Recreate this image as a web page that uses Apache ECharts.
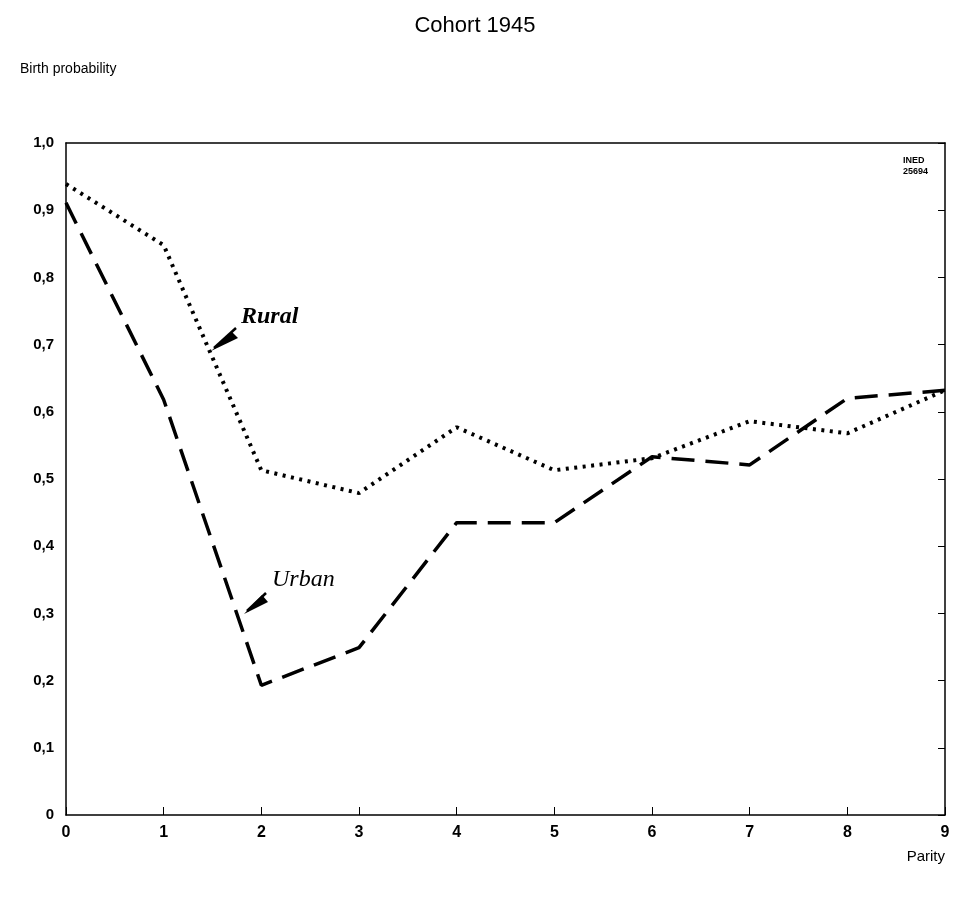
<!DOCTYPE html>
<html><head><meta charset="utf-8">
<script src="https://cdn.jsdelivr.net/npm/echarts@6/dist/echarts.min.js"></script>
<style>html,body{margin:0;padding:0;background:#fff}#c{width:971px;height:897px}</style>
</head><body><div id="c"></div>
<script>
const parity = [0,1,2,3,4,5,6,7,8,9];
const rural = [0.939,0.848,0.513,0.479,0.577,0.513,0.531,0.586,0.568,0.632];
const urban = [0.911,0.618,0.193,0.249,0.435,0.435,0.533,0.521,0.620,0.632];
const yTicks = ['0','0,1','0,2','0,3','0,4','0,5','0,6','0,7','0,8','0,9','1,0'];

const chart = echarts.init(document.getElementById('c'));
const font = 'Liberation Sans, Arial, sans-serif';
const axLine = {show:true,onZero:false,lineStyle:{color:'#000',width:1.5}};
chart.setOption({
  animation:false,
  backgroundColor:'#fff',
  title:{text:'Cohort 1945',left:470,top:10,textAlign:'center',
    textStyle:{fontFamily:font,fontSize:22,fontWeight:'normal',color:'#000'}},
  grid:{left:66,right:26,top:143,bottom:82},
  xAxis:[
    {type:'value',min:0,max:9,interval:1,position:'bottom',
      name:'Parity',nameLocation:'end',nameGap:0,
      nameTextStyle:{fontFamily:font,fontSize:15,color:'#000',align:'right',verticalAlign:'top',padding:[34,0,0,0]},
      axisLine:axLine,splitLine:{show:false},
      axisTick:{show:true,inside:true,length:8,lineStyle:{color:'#000'}},
      axisLabel:{fontFamily:font,fontSize:16,color:'#000',margin:10,fontWeight:'bold'}},
    {type:'value',min:0,max:9,interval:1,position:'top',
      axisLine:axLine,splitLine:{show:false},
      axisTick:{show:false},axisLabel:{show:false}}
  ],
  yAxis:[
    {type:'value',min:0,max:1,interval:0.1,position:'left',
      axisLine:axLine,splitLine:{show:false},
      axisTick:{show:false},
      axisLabel:{fontFamily:font,fontSize:15,color:'#000',margin:12,fontWeight:'bold',
        formatter:(v)=>yTicks[Math.round(v*10)]}},
    {type:'value',min:0,max:1,interval:0.1,position:'right',
      axisLine:axLine,splitLine:{show:false},
      axisTick:{show:true,inside:true,length:7,lineStyle:{color:'#000'}},
      axisLabel:{show:false}}
  ],
  graphic:[
    {type:'text',left:20,top:62,style:{text:'Birth probability',font:'14px '+font,fill:'#000'}},
    {type:'text',left:903,top:155,style:{text:'INED\n25694',font:'bold 9px '+font,fill:'#000',align:'center',lineHeight:11}},
    {type:'text',left:241,top:305,style:{text:'Rural',font:'bold italic 24px "Liberation Serif", "DejaVu Serif", serif',fill:'#000'}},
    {type:'text',left:272,top:568,style:{text:'Urban',font:'italic 24px "Liberation Serif", "DejaVu Serif", serif',fill:'#000'}},
    {type:'line',shape:{x1:236,y1:328,x2:214,y2:348},style:{stroke:'#000',lineWidth:2.5}},
    {type:'polygon',shape:{points:[[211,351],[232,332],[238,338]]},style:{fill:'#000'}},
    {type:'line',shape:{x1:266,y1:593,x2:247,y2:611},style:{stroke:'#000',lineWidth:2.5}},
    {type:'polygon',shape:{points:[[244,614],[262,595],[268,602]]},style:{fill:'#000'}}
  ],
  series:[
    {name:'Rural',type:'line',data:parity.map((p,i)=>[p,rural[i]]),showSymbol:false,
      lineStyle:{color:'#000',width:4,type:[3,5.5],cap:'butt'}},
    {name:'Urban',type:'line',data:parity.map((p,i)=>[p,urban[i]]),showSymbol:false,
      lineStyle:{color:'#000',width:3.5,type:[23,11]}}
  ]
});
</script></body></html>
